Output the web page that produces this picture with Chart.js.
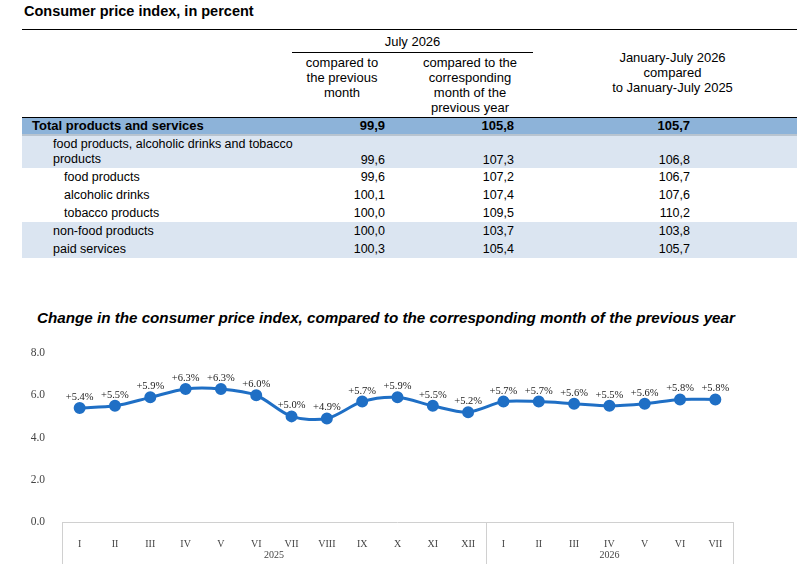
<!DOCTYPE html>
<html>
<head>
<meta charset="utf-8">
<script src="https://cdn.jsdelivr.net/npm/chart.js@4"></script>
<style>
  body { margin: 0; background: #fff; font-family: "Liberation Sans", Arial, sans-serif; color: #000; }
  .abs { position: absolute; }
  .h { font-size: 13px; text-align: center; line-height: 15px; }
  .row { position: absolute; left: 22px; width: 775px; font-size: 12.5px; }
  .row span { position: absolute; }
  .n1 { right: 412px; } .n2 { right: 283px; } .n3 { right: 107px; }
</style>
</head>
<body>
<div class="abs" style="left:24px;top:3px;font-weight:bold;font-size:14.5px;">Consumer price index, in percent</div>
<div class="abs" style="left:22px;top:29px;width:775px;border-top:1px solid #000;"></div>
<div class="abs h" style="left:292px;top:34px;width:241px;">July 2026</div>
<div class="abs" style="left:292px;top:52px;width:241px;border-top:1px solid #000;"></div>
<div class="abs h" style="left:292px;top:55px;width:100px;">compared to<br>the previous<br>month</div>
<div class="abs h" style="left:405px;top:55px;width:130px;">compared to the<br>corresponding<br>month of the<br>previous year</div>
<div class="abs h" style="left:560px;top:50px;width:225px;">January-July 2026<br>compared<br>to January-July 2025</div>

<div class="row" style="top:117px;height:16px;background:#8db3d9;border-top:1px solid #000;font-weight:bold;font-size:13px;line-height:16px;">
  <span style="left:10px;">Total products and services</span><span class="n1">99,9</span><span class="n2">105,8</span><span class="n3">105,7</span></div>
<div class="abs" style="left:22px;top:134px;width:775px;height:2px;background:#b8c4d0;"></div>
<div class="row" style="top:136px;height:32px;background:#dbe5f1;line-height:15px;">
  <span style="left:31px;top:1px;">food products, alcoholic drinks and tobacco<br>products</span><span class="n1" style="top:17px;">99,6</span><span class="n2" style="top:17px;">107,3</span><span class="n3" style="top:17px;">106,8</span></div>
<div class="row" style="top:168px;height:18px;line-height:18px;"><span style="left:42px;">food products</span><span class="n1">99,6</span><span class="n2">107,2</span><span class="n3">106,7</span></div>
<div class="row" style="top:186px;height:18px;line-height:18px;"><span style="left:42px;">alcoholic drinks</span><span class="n1">100,1</span><span class="n2">107,4</span><span class="n3">107,6</span></div>
<div class="row" style="top:204px;height:18px;line-height:18px;"><span style="left:42px;">tobacco products</span><span class="n1">100,0</span><span class="n2">109,5</span><span class="n3">110,2</span></div>
<div class="row" style="top:222px;height:36px;background:#dbe5f1;line-height:18px;"><span style="left:31px;">non-food products</span><span class="n1">100,0</span><span class="n2">103,7</span><span class="n3">103,8</span>
  <span style="left:31px;top:18px;">paid services</span><span class="n1" style="top:18px;">100,3</span><span class="n2" style="top:18px;">105,4</span><span class="n3" style="top:18px;">105,7</span></div>

<div class="abs" style="left:37px;top:309px;font-weight:bold;font-style:italic;font-size:15.2px;">Change in the consumer price index, compared to the corresponding month of the previous year</div>
<div class="abs" style="left:0;top:335px;width:797px;height:235px;"><canvas id="cpiChart"></canvas></div>

<script>
const months = ['I', 'II', 'III', 'IV', 'V', 'VI', 'VII', 'VIII', 'IX', 'X', 'XI', 'XII',
                'I', 'II', 'III', 'IV', 'V', 'VI', 'VII'];
const years = ['2025', '2026'];
const monthsPerYear = [12, 7];
const cpiValues = [5.4, 5.5, 5.9, 6.3, 6.3, 6.0, 5.0, 4.9, 5.7, 5.9, 5.5, 5.2,
                   5.7, 5.7, 5.6, 5.5, 5.6, 5.8, 5.8];
const yTicks = [0, 2, 4, 6, 8];

// value labels above each point
const pointLabels = {
    id: 'pointLabels',
    afterDatasetsDraw(chart) {
        const ctx = chart.ctx;
        const meta = chart.getDatasetMeta(0);
        ctx.save();
        ctx.font = '10.5px "Liberation Serif", serif';
        ctx.fillStyle = '#222';
        ctx.textAlign = 'center';
        meta.data.forEach((pt, i) => {
            ctx.fillText('+' + cpiValues[i].toFixed(1) + '%', pt.x, pt.y - 8);
        });
        ctx.restore();
    }
};

// year groups under the month labels
const yearAxis = {
    id: 'yearAxis',
    afterDraw(chart) {
        const ctx = chart.ctx;
        const x = chart.scales.x;
        const bottom = chart.chartArea.bottom;
        const step = x.getPixelForValue(1) - x.getPixelForValue(0);
        ctx.save();
        ctx.strokeStyle = '#d0d0d0';
        ctx.lineWidth = 1;
        ctx.beginPath();
        ctx.moveTo(chart.chartArea.left, bottom + 0.5);
        ctx.lineTo(chart.chartArea.right, bottom + 0.5);
        let start = 0;
        const edges = [chart.chartArea.left];
        monthsPerYear.forEach(n => {
            start += n;
            edges.push(x.getPixelForValue(start - 1) + step / 2);
        });
        edges.forEach(px => {
            ctx.moveTo(Math.round(px) + 0.5, bottom);
            ctx.lineTo(Math.round(px) + 0.5, bottom + 42);
        });
        ctx.stroke();
        ctx.font = '10px "Liberation Serif", serif';
        ctx.fillStyle = '#444';
        ctx.textAlign = 'center';
        years.forEach((y, i) => {
            ctx.fillText(y, (edges[i] + edges[i + 1]) / 2, bottom + 36);
        });
        ctx.restore();
    }
};

new Chart(document.getElementById('cpiChart'), {
    type: 'line',
    data: {
        labels: months,
        datasets: [{
            data: cpiValues,
            borderColor: '#1f6fc5',
            backgroundColor: '#1f6fc5',
            borderWidth: 3,
            pointRadius: 4.5,
            pointHoverRadius: 4.5,
            tension: 0.3
        }]
    },
    options: {
        responsive: true,
        maintainAspectRatio: false,
        animation: false,
        layout: { padding: { left: 0, right: 64, top: 18, bottom: 0 } },
        plugins: { legend: { display: false }, tooltip: { enabled: false } },
        scales: {
            x: {
                offset: true,
                grid: { display: false },
                border: { display: false },
                ticks: { color: '#444', font: { family: 'Liberation Serif', size: 10 }, maxRotation: 0, padding: 8 },
                afterFit: s => { s.height = 48; }
            },
            y: {
                min: 0, max: 8,
                afterBuildTicks: s => { s.ticks = yTicks.map(v => ({ value: v })); },
                grid: { display: false },
                border: { display: false },
                ticks: { color: '#444', font: { family: 'Liberation Serif', size: 11.5 },
                         callback: v => v.toFixed(1), padding: 9 },
                afterFit: s => { s.width = 62; }
            }
        }
    },
    plugins: [pointLabels, yearAxis]
});
</script>
</body>
</html>
